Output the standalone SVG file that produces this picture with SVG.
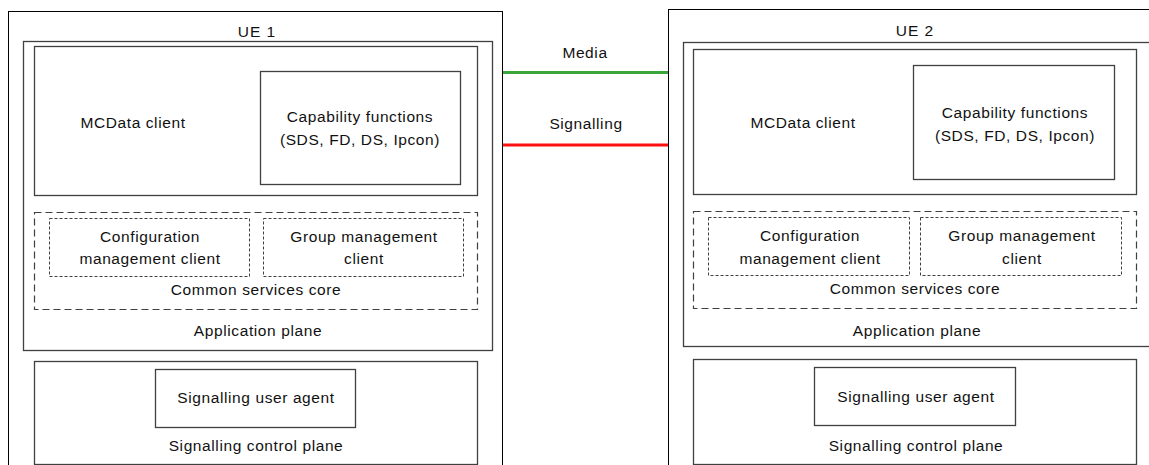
<svg xmlns="http://www.w3.org/2000/svg" width="1149" height="465" viewBox="0 0 1149 465">
<style>
  .outer{fill:none;stroke:#000;stroke-width:1}
  .box{fill:none;stroke:#404040;stroke-width:1.3}
  .dash{fill:none;stroke:#404040;stroke-width:1.2;stroke-dasharray:7,4}
  .dash2{fill:none;stroke:#404040;stroke-width:1;stroke-dasharray:3,2}
  text{font-family:"Liberation Sans",Arial,sans-serif;font-size:15.5px;letter-spacing:0.6px;fill:#111;text-anchor:middle}
  .ue{letter-spacing:1px}
</style>
<rect width="1149" height="465" fill="#fff"/>
<g id="ue1">
  <rect class="outer" x="8.5" y="11.5" width="494" height="470"/>
  <text class="ue" x="257" y="37">UE 1</text>
  <g id="ue1-app-plane">
    <rect class="box" x="23.5" y="41.5" width="469" height="309"/>
    <text x="258" y="336">Application plane</text>
  </g>
  <g id="ue1-mcdata-client">
    <rect class="box" x="34.5" y="46.5" width="443" height="149"/>
    <text x="133" y="128">MCData client</text>
  </g>
  <g id="ue1-capability">
    <rect class="box" x="260.5" y="71.5" width="200" height="113"/>
    <text x="360" y="122">Capability functions</text>
    <text x="360" y="145">(SDS, FD, DS, Ipcon)</text>
  </g>
  <g id="ue1-common-services">
    <rect class="dash" x="34.5" y="212.5" width="443" height="97"/>
    <text x="256" y="295">Common services core</text>
  </g>
  <g id="ue1-config">
    <rect class="dash2" x="49.5" y="218.5" width="200" height="58"/>
    <text x="150" y="242">Configuration</text>
    <text x="150" y="264">management client</text>
  </g>
  <g id="ue1-group">
    <rect class="dash2" x="263.5" y="218.5" width="200" height="58"/>
    <text x="364" y="242">Group management</text>
    <text x="364" y="264">client</text>
  </g>
  <g id="ue1-signalling-plane">
    <rect class="box" x="34.5" y="361.5" width="443" height="103"/>
    <text x="256" y="451">Signalling control plane</text>
  </g>
  <g id="ue1-sua">
    <rect class="box" x="155.5" y="369.5" width="200" height="58"/>
    <text x="256" y="403">Signalling user agent</text>
  </g>
</g>
<g id="ue2">
  <rect class="outer" x="668.5" y="9.5" width="500" height="470"/>
  <text class="ue" x="915" y="36">UE 2</text>
  <g id="ue2-app-plane">
    <rect class="box" x="683.5" y="42.5" width="480" height="304"/>
    <text x="917" y="336">Application plane</text>
  </g>
  <g id="ue2-mcdata-client">
    <rect class="box" x="693.5" y="49.5" width="443" height="145"/>
    <text x="803" y="128">MCData client</text>
  </g>
  <g id="ue2-capability">
    <rect class="box" x="913.5" y="65.5" width="201" height="114"/>
    <text x="1015" y="118">Capability functions</text>
    <text x="1015" y="141">(SDS, FD, DS, Ipcon)</text>
  </g>
  <g id="ue2-common-services">
    <rect class="dash" x="693.5" y="211.5" width="443" height="97"/>
    <text x="915" y="294">Common services core</text>
  </g>
  <g id="ue2-config">
    <rect class="dash2" x="708.5" y="217.5" width="201" height="58"/>
    <text x="810" y="241">Configuration</text>
    <text x="810" y="264">management client</text>
  </g>
  <g id="ue2-group">
    <rect class="dash2" x="920.5" y="217.5" width="201" height="58"/>
    <text x="1022" y="241">Group management</text>
    <text x="1022" y="264">client</text>
  </g>
  <g id="ue2-signalling-plane">
    <rect class="box" x="693.5" y="359.5" width="443" height="105"/>
    <text x="916" y="451">Signalling control plane</text>
  </g>
  <g id="ue2-sua">
    <rect class="box" x="814.5" y="367.5" width="201" height="58"/>
    <text x="916" y="402">Signalling user agent</text>
  </g>
</g>
<g id="connectors">
  <line x1="503" y1="72.5" x2="668" y2="72.5" stroke="#3aa53a" stroke-width="3"/>
  <text x="585" y="58">Media</text>
  <line x1="503" y1="145" x2="668" y2="145" stroke="#ff1010" stroke-width="3"/>
  <text x="586" y="129">Signalling</text>
</g>
</svg>
